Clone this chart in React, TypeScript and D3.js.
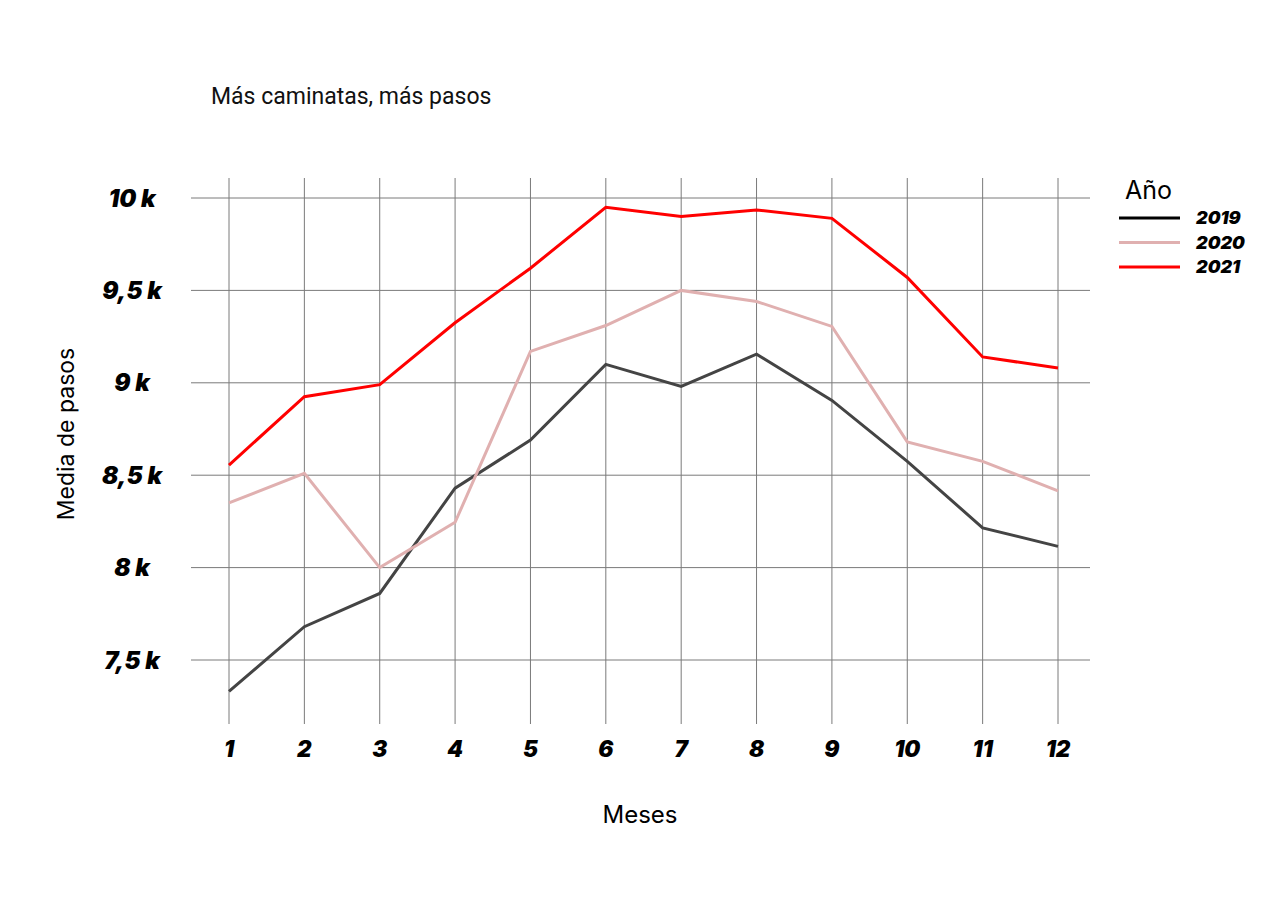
import React from "react";
import * as d3 from "d3";

const months = [1, 2, 3, 4, 5, 6, 7, 8, 9, 10, 11, 12];
const years = ["2019", "2020", "2021"];
const values2019 = [7.33, 7.68, 7.86, 8.43, 8.69, 9.1, 8.98, 9.155, 8.905, 8.575, 8.215, 8.115];
const values2020 = [8.35, 8.51, 8.0, 8.245, 9.17, 9.31, 9.5, 9.44, 9.305, 8.68, 8.575, 8.415];
const values2021 = [8.555, 8.925, 8.99, 9.325, 9.62, 9.95, 9.9, 9.935, 9.89, 9.57, 9.14, 9.08];
const yTicks = [7.5, 8, 8.5, 9, 9.5, 10];
const yTickLabels = ["7,5 k", "8 k", "8,5 k", "9 k", "9,5 k", "10 k"];
const colors = ["#444444", "#e0b0b0", "#ff0000"];
const legendColors = ["#000000", "#e0b0b0", "#ff0000"];

export default function App() {
  const W = 1280, H = 903;
  const x = d3.scaleLinear().domain([1, 12]).range([229, 1058]);
  const y = d3.scaleLinear().domain([7.5, 10]).range([660, 198]);
  const line = d3.line<number>().x((_, i) => x(months[i])).y((d) => y(d));
  const series = [values2019, values2020, values2021];
  const tickFont = "Inter, 'Liberation Sans', sans-serif";
  return (
    <svg width={W} height={H} style={{ position: "absolute", left: 0, top: 0, background: "#fff" }}>
      <text x={211} y={104} fontFamily="Roboto, sans-serif" fontSize={23} fill="#111">Más caminatas, más pasos</text>
      {yTicks.map((t) => (
        <line key={"h" + t} x1={191} x2={1090} y1={y(t)} y2={y(t)} stroke="#7a7a7a" strokeWidth={1} />
      ))}
      {months.map((m) => (
        <line key={"v" + m} x1={x(m)} x2={x(m)} y1={178} y2={724} stroke="#7a7a7a" strokeWidth={1} />
      ))}
      {yTicks.map((t, i) => (
        <text key={"yl" + t} x={132} y={y(t)} dy="0.36em" textAnchor="middle" fontFamily={tickFont} fontWeight={900} fontStyle="italic" fontSize={24} fill="#000">{yTickLabels[i]}</text>
      ))}
      {months.map((m) => (
        <text key={"xl" + m} x={x(m)} y={757} textAnchor="middle" fontFamily={tickFont} fontWeight={900} fontStyle="italic" fontSize={22.5} fill="#000">{m}</text>
      ))}
      {series.map((s, i) => (
        <path key={"s" + i} d={line(s) || ""} fill="none" stroke={colors[i]} strokeWidth={3} />
      ))}
      <text x={640} y={823} textAnchor="middle" fontFamily="Inter, Roboto, sans-serif" fontSize={24} fill="#000">Meses</text>
      <text transform="translate(74,434) rotate(-90)" textAnchor="middle" fontFamily="Inter, Roboto, sans-serif" fontSize={23} fill="#000">Media de pasos</text>
      <text x={1125} y={199} fontFamily="Inter, Roboto, sans-serif" fontSize={25} fill="#000">Año</text>
      {years.map((yr, i) => (
        <g key={yr}>
          <line x1={1119} x2={1180} y1={218 + i * 24.5} y2={218 + i * 24.5} stroke={legendColors[i]} strokeWidth={3} />
          <text x={1196} y={218 + i * 24.5} dy="0.36em" fontFamily={tickFont} fontWeight={900} fontStyle="italic" fontSize={18} fill="#000">{yr}</text>
        </g>
      ))}
    </svg>
  );
}
